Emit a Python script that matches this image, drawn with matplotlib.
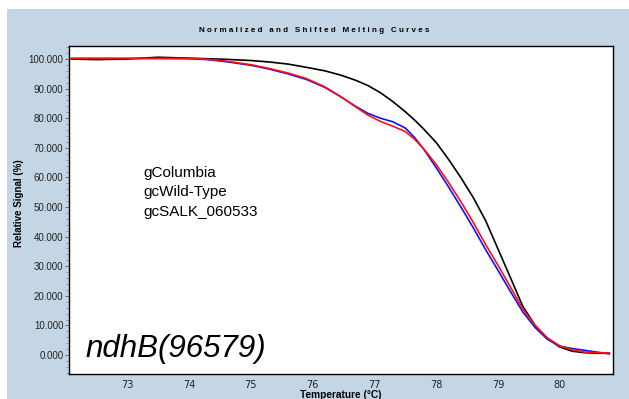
import matplotlib
matplotlib.use("Agg")
import matplotlib.pyplot as plt
from matplotlib.patches import Rectangle
from matplotlib.ticker import MultipleLocator

temps = [72.1, 72.5, 73.0, 73.5, 74.0, 74.3, 74.6, 75.0, 75.3, 75.6, 75.9, 76.2,
         76.45, 76.7, 76.9, 77.1, 77.3, 77.5, 77.65, 77.8, 78.0, 78.2, 78.4, 78.6,
         78.8, 79.0, 79.2, 79.4, 79.6, 79.8, 80.0, 80.2, 80.4, 80.6, 80.8]
columbia = [100.0, 99.8, 100.0, 100.6, 100.3, 100.1, 99.9, 99.5, 99.0, 98.3, 97.2, 96.0,
            94.6, 92.8, 91.0, 88.6, 85.6, 82.2, 79.4, 76.3, 71.8, 66.1, 59.9, 53.2,
            45.4, 35.8, 26.2, 16.5, 10.0, 5.6, 2.7, 1.3, 0.8, 0.6, 0.6]
wild_type = [100.2, 100.2, 100.2, 100.2, 100.1, 99.8, 99.1, 97.9, 96.6, 95.0, 93.1, 90.4,
             87.3, 84.0, 81.6, 80.0, 78.8, 76.7, 73.5, 69.5, 63.3, 56.8, 50.0, 43.0,
             35.6, 28.6, 21.5, 14.6, 9.3, 5.3, 3.0, 2.2, 1.6, 1.0, 0.4]
salk = [100.2, 100.2, 100.2, 100.2, 100.2, 99.9, 99.3, 98.1, 96.8, 95.3, 93.4, 90.6,
        87.4, 83.8, 81.0, 78.9, 77.3, 75.5, 72.9, 69.6, 64.4, 58.3, 51.8, 44.8,
        37.3, 30.3, 23.0, 15.6, 10.0, 5.8, 3.1, 1.8, 1.0, 0.8, 0.7]
series_names = ["gColumbia", "gcWild-Type", "gcSALK_060533"]
x_ticks = [73, 74, 75, 76, 77, 78, 79, 80]
y_ticks = [0, 10, 20, 30, 40, 50, 60, 70, 80, 90, 100]

W, H = 629, 399
fig = plt.figure(figsize=(W / 100, H / 100), dpi=100, facecolor="white")
fig.patches.append(Rectangle((7 / W, 0), 1 - 7 / W, (H - 9) / H,
                             transform=fig.transFigure, facecolor="#c4d6e6",
                             edgecolor="none", zorder=-10))

ax = fig.add_axes([69 / W, 1 - 374 / H, (613 - 69) / W, (374 - 46) / H])
ax.set_zorder(5)
ax.set_facecolor("white")
ax.plot(temps, columbia, color="black", lw=1.2)
ax.plot(temps, wild_type, color="#1010ff", lw=1.2)
ax.plot(temps, salk, color="#ff1010", lw=1.2)

ax.set_xlim(72.06, 80.86)
ax.set_ylim(-6.4, 104.4)
ax.set_xticks(x_ticks)
ax.set_xticklabels([str(t) for t in x_ticks], fontsize=7, color="#222222",
                   family="Liberation Sans Narrow")
ax.set_yticks(y_ticks)
ax.set_yticklabels([f"{v:.3f}" for v in y_ticks], fontsize=7, color="#222222",
                   family="Liberation Sans")
ax.yaxis.set_minor_locator(MultipleLocator(2))
ax.tick_params(axis="x", length=0, pad=4)
ax.tick_params(axis="y", which="major", length=3, width=0.6, color="#555555", pad=1)
ax.tick_params(axis="y", which="minor", length=2, width=0.5, color="#777777")
for s in ax.spines.values():
    s.set_linewidth(1.0)
    s.set_color("black")

fig.text(314 / W, 1 - 31 / H, "N o r m a l i z e d   a n d   S h i f t e d   M e l t i n g   C u r v e s",
         ha="center", va="center", fontsize=5.8, fontweight="bold",
         family="Liberation Sans")
fig.text(341 / W, 1 - 395 / H, "Temperature (°C)", ha="center", va="center",
         fontsize=7.3, fontweight="bold", family="Liberation Sans")
fig.text(19 / W, 1 - 203 / H, "Relative Signal (%)", ha="center", va="center",
         rotation=90, fontsize=7, fontweight="bold", family="Liberation Sans")

for i, name in enumerate(series_names):
    fig.text(143 / W, 1 - (173 + 19.5 * i) / H, name, ha="left", va="center",
             fontsize=11, family="Liberation Sans", zorder=10)

fig.text(85 / W, 1 - 357 / H, "ndhB(96579)", ha="left", va="baseline",
         fontsize=22.5, style="italic", family="Liberation Sans", zorder=10)

fig.savefig("out.png", dpi=100, facecolor="white")
